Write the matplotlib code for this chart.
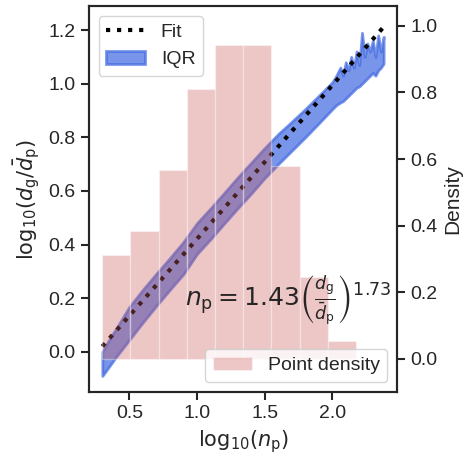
import matplotlib
matplotlib.use("Agg")
import matplotlib.pyplot as plt
import numpy as np
import seaborn as sns

# histogram of log10(n_p) (density)
bin_edges = [0.30, 0.508, 0.717, 0.925, 1.133, 1.342, 1.550, 1.758, 1.967, 2.175, 2.383]
bin_density = [0.311, 0.383, 0.567, 0.811, 0.942, 0.944, 0.579, 0.247, 0.052, 0.0]

# IQR band of log10(dg/dp) vs log10(n_p)
iqr_x = [0.30, 0.35, 0.40, 0.50, 0.60, 0.70, 0.80, 0.90, 1.00, 1.10, 1.20, 1.30,
         1.40, 1.50, 1.60, 1.70, 1.80, 1.90, 2.00, 2.03, 2.06, 2.08, 2.10, 2.12,
         2.14, 2.16, 2.18, 2.20, 2.22, 2.24, 2.26, 2.28, 2.30, 2.32, 2.34, 2.36, 2.38]
iqr_lo = [-0.09, -0.055, -0.02, 0.045, 0.11, 0.172, 0.232, 0.29, 0.365, 0.42, 0.478,
          0.535, 0.59, 0.648, 0.70, 0.75, 0.80, 0.852, 0.905, 0.92, 0.93, 0.935, 0.945,
          0.955, 0.965, 0.975, 0.985, 0.99, 1.00, 1.01, 1.02, 1.03, 1.04, 1.03, 1.05,
          1.06, 1.075]
iqr_hi = [0.00, 0.045, 0.085, 0.168, 0.232, 0.292, 0.35, 0.41, 0.48, 0.535, 0.592,
          0.65, 0.705, 0.76, 0.812, 0.858, 0.905, 0.955, 1.005, 1.03, 1.06, 1.03, 1.08,
          1.05, 1.10, 1.06, 1.12, 1.07, 1.19, 1.10, 1.15, 1.12, 1.16, 1.10, 1.18,
          1.12, 1.175]

# power-law fit in log space: log10(dg/dp) = a + b*log10(n_p)
fit_range = [0.30, 2.38]
fit_coef = [-0.152, 0.573]

sns.set_style("ticks")
plt.rcParams['font.family'] = ['Liberation Sans', 'DejaVu Sans']
plt.rcParams['font.size'] = 14

fig = plt.figure(figsize=(4.7, 4.59), dpi=100)
ax = fig.add_axes([0.189, 0.146, 0.656, 0.841])
ax2 = ax.twinx()

ax.fill_between(iqr_x, iqr_lo, iqr_hi, color='royalblue', alpha=0.7, lw=2, label='IQR')
fx = np.array(fit_range)
ax.plot(fx, fit_coef[0] + fit_coef[1] * fx, 'k:', lw=3, label='Fit')

ax2.bar(bin_edges[:-1], bin_density, width=np.diff(bin_edges), align='edge',
        color='indianred', alpha=0.35, edgecolor='white', lw=1, label='Point density')

ax.set_xlim(0.2, 2.48)
ax.set_ylim(-0.15, 1.29)
ax2.set_ylim(-0.10, 1.06)
ax.set_xticks([0.5, 1.0, 1.5, 2.0])
ax.set_yticks([0.0, 0.2, 0.4, 0.6, 0.8, 1.0, 1.2])
ax2.set_yticks([0.0, 0.2, 0.4, 0.6, 0.8, 1.0])

for a in (ax, ax2):
    a.tick_params(labelsize=14, width=1.5, length=6)
    for s in a.spines.values():
        s.set_linewidth(1.5)

ax.set_xlabel(r'$\mathrm{log}_{10}(n_\mathrm{p})$', fontsize=15)
ax.set_ylabel(r'$\mathrm{log}_{10}(d_\mathrm{g}/\bar{d}_\mathrm{p})$', fontsize=15)
ax2.set_ylabel('Density', fontsize=15)

h, l = ax.get_legend_handles_labels()
ax.legend(h[::-1], l[::-1], loc='upper left', fontsize=14)
ax2.legend(loc='lower right', fontsize=14)

ax2.text(0.312, 0.238,
         r'$n_\mathrm{p} = 1.43\left(\frac{d_\mathrm{g}}{\bar{d}_\mathrm{p}}\right)^{1.73}$',
         transform=ax2.transAxes, fontsize=18, ha='left', va='center')

fig.savefig('out.png', dpi=100)
